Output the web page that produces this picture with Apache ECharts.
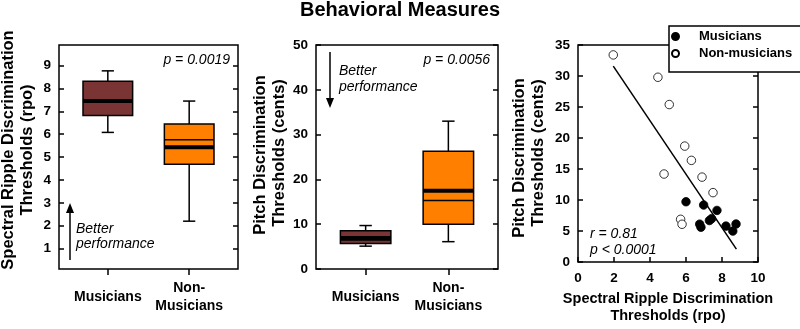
<!DOCTYPE html>
<html>
<head>
<meta charset="utf-8">
<script src="https://cdn.jsdelivr.net/npm/echarts@6/dist/echarts.min.js"></script>
<style>html,body{margin:0;padding:0;background:#fff}#c{width:800px;height:329px}</style>
</head>
<body>
<div id="c"></div>
<script>
// ---------- data ----------
const categories = ['Musicians', 'Non-\nMusicians'];
const groupPos = [1, 2];

// Spectral ripple discrimination thresholds (rpo)
const rippleWhiskerLow  = [6.08, 2.2];
const rippleQ1          = [6.82, 4.69];
const rippleMedian      = [7.45, 5.76];
const rippleQ3          = [8.32, 6.45];
const rippleWhiskerHigh = [8.77, 7.45];
const rippleMean        = [7.45, 5.43];

// Pitch discrimination thresholds (cents)
const pitchWhiskerLow  = [5.1, 6.1];
const pitchQ1          = [5.7, 10.0];
const pitchMedian      = [6.5, 15.3];
const pitchQ3          = [8.55, 26.3];
const pitchWhiskerHigh = [9.7, 33.0];
const pitchMean        = [6.9, 17.45];

// Scatter: ripple (x) vs pitch (y)
const musiciansRipple = [6.0, 6.98, 7.72, 7.3, 7.42, 6.76, 6.83, 8.22, 8.78, 8.6];
const musiciansPitch  = [9.73, 9.2, 8.33, 6.7, 7.0, 6.12, 5.62, 5.8, 6.14, 5.0];
const nonRipple = [1.96, 4.44, 5.07, 5.93, 6.30, 4.78, 6.89, 7.5, 5.70, 5.78];
const nonPitch  = [33.4, 29.8, 25.4, 18.7, 16.4, 14.2, 13.7, 11.2, 6.9, 6.1];

// regression line endpoints
const fitRipple = [1.96, 8.8];
const fitPitch  = [31.6, 2.1];

const rippleTicks = [1, 2, 3, 4, 5, 6, 7, 8, 9];
const groupColors = ['#7a3434', '#ff8000'];

// ---------- chart ----------
const FONT = '"Liberation Sans", Arial, sans-serif';
const BOX_W = 0.61, CAP_W = 0.15;

function boxRows(lo, q1, med, q3, hi, mean) {
  return groupPos.map((x, i) => ({
    value: [x, lo[i], q1[i], med[i], q3[i], hi[i], mean[i]],
    itemStyle: { color: groupColors[i] }
  }));
}

function renderBox(params, api) {
  const x = api.value(0);
  const lo = api.coord([x, api.value(1)]);
  const q1 = api.coord([x, api.value(2)]);
  const med = api.coord([x, api.value(3)]);
  const q3 = api.coord([x, api.value(4)]);
  const hi = api.coord([x, api.value(5)]);
  const mean = api.coord([x, api.value(6)]);
  const w = api.size([BOX_W, 0])[0];
  const cw = api.size([CAP_W, 0])[0];
  const cx = lo[0];
  const color = api.visual('color');
  const s = { stroke: '#000', lineWidth: 1.5 };
  return {
    type: 'group',
    children: [
      { type: 'line', shape: { x1: cx, y1: hi[1], x2: cx, y2: q3[1] }, style: s },
      { type: 'line', shape: { x1: cx, y1: q1[1], x2: cx, y2: lo[1] }, style: s },
      { type: 'line', shape: { x1: cx - cw / 2, y1: hi[1], x2: cx + cw / 2, y2: hi[1] }, style: s },
      { type: 'line', shape: { x1: cx - cw / 2, y1: lo[1], x2: cx + cw / 2, y2: lo[1] }, style: s },
      { type: 'rect', shape: { x: cx - w / 2, y: q3[1], width: w, height: q1[1] - q3[1] },
        style: { fill: color, stroke: '#000', lineWidth: 1.5 } },
      { type: 'line', shape: { x1: cx - w / 2, y1: med[1], x2: cx + w / 2, y2: med[1] }, style: s },
      { type: 'line', shape: { x1: cx - w / 2, y1: mean[1], x2: cx + w / 2, y2: mean[1] },
        style: { stroke: '#000', lineWidth: 4 } }
    ]
  };
}

const tickLabel = { fontFamily: FONT, fontWeight: 'bold', fontSize: 13.5, color: '#000' };

function boxXAxis(gi) {
  return {
    type: 'value', gridIndex: gi, min: 0.4, max: 2.6,
    axisLine: { show: false },
    splitLine: { show: false },
    axisTick: { show: true, inside: false, length: 6, customValues: groupPos, lineStyle: { color: '#000', width: 1.5 } },
    axisLabel: Object.assign({}, tickLabel, {
      fontSize: 14, customValues: groupPos, margin: 28, verticalAlign: 'middle', lineHeight: 18,
      formatter: v => categories[groupPos.indexOf(v)] || ''
    })
  };
}

function yAxisPair(gi, min, max, extra) {
  const base = {
    type: 'value', gridIndex: gi, min: min, max: max,
    axisLine: { show: false }, splitLine: { show: false },
    axisTick: Object.assign({ show: true, inside: true, length: 5, lineStyle: { color: '#000', width: 1.5 } }, extra.tick || {})
  };
  return [
    Object.assign({}, base, { position: 'left', interval: extra.interval,
      axisLabel: Object.assign({}, tickLabel, { margin: 8 }, extra.label || {}) }),
    Object.assign({}, base, { position: 'right', interval: extra.interval, axisLabel: { show: false,
      customValues: extra.label && extra.label.customValues } })
  ];
}

const rippleY = yAxisPair(0, 0.11, 9.9, { tick: { customValues: rippleTicks }, label: { customValues: rippleTicks } });
const pitchY = yAxisPair(1, 0, 50, { interval: 10 });
const scatterY = yAxisPair(2, 0, 35, { interval: 5 });

const gridStyle = { show: true, borderColor: '#000', borderWidth: 1.5, backgroundColor: 'transparent' };

function vtext(x, y, lines) {
  return { type: 'text', x: x, y: y, rotation: Math.PI / 2,
    style: { text: lines, font: 'bold 16.5px ' + FONT, fill: '#000', align: 'center', verticalAlign: 'middle' } };
}
function itext(x, y, t, align) {
  return { type: 'text', x: x, y: y,
    style: { text: t, font: 'italic 14px ' + FONT, fill: '#000', align: align || 'left', verticalAlign: 'middle' } };
}
function arrow(x, yTail, yHead) {
  const dir = yHead < yTail ? 1 : -1;
  return [
    { type: 'line', shape: { x1: x, y1: yTail, x2: x, y2: yHead + dir * 6 }, style: { stroke: '#000', lineWidth: 1.5 } },
    { type: 'polygon', shape: { points: [[x, yHead], [x - 4, yHead + dir * 10], [x + 4, yHead + dir * 10]] }, style: { fill: '#000' } }
  ];
}

const option = {
  animation: false,
  backgroundColor: '#fff',
  title: { text: 'Behavioral Measures', left: 'center', top: 0, padding: 0,
    textStyle: { fontFamily: FONT, fontWeight: 'bold', fontSize: 20, color: '#000' } },
  legend: {
    data: ['Musicians', 'Non-musicians'], orient: 'vertical', left: 669, top: 26,
    padding: [4, 60, 12, 2], itemGap: 4, itemWidth: 7, itemHeight: 7,
    backgroundColor: '#fff', borderColor: '#000', borderWidth: 1.5, borderRadius: 0,
    textStyle: { fontFamily: FONT, fontWeight: 'bold', fontSize: 13, color: '#000', padding: [0, 0, 0, 15] },
    z: 10
  },
  grid: [
    Object.assign({ left: 59, top: 45, width: 179, height: 224 }, gridStyle),
    Object.assign({ left: 316, top: 45, width: 182, height: 224 }, gridStyle),
    Object.assign({ left: 578, top: 45, width: 180, height: 224 }, gridStyle)
  ],
  xAxis: [
    boxXAxis(0),
    boxXAxis(1),
    { type: 'value', gridIndex: 2, min: 0, max: 10, interval: 2,
      axisLine: { show: false }, splitLine: { show: false },
      axisTick: { show: true, inside: true, length: 5, lineStyle: { color: '#000', width: 1.5 } },
      axisLabel: Object.assign({}, tickLabel, { margin: 9 }),
      name: 'Spectral Ripple Discrimination\nThresholds (rpo)', nameLocation: 'middle', nameGap: 27,
      nameTextStyle: { fontFamily: FONT, fontWeight: 'bold', fontSize: 14.5, color: '#000', lineHeight: 17, verticalAlign: 'top' } }
  ],
  yAxis: [rippleY[0], rippleY[1], pitchY[0], pitchY[1], scatterY[0], scatterY[1]],
  series: [
    { type: 'custom', name: 'ripple box', xAxisIndex: 0, yAxisIndex: 0, renderItem: renderBox,
      encode: { x: 0, y: [1, 2, 3, 4, 5] },
      data: boxRows(rippleWhiskerLow, rippleQ1, rippleMedian, rippleQ3, rippleWhiskerHigh, rippleMean) },
    { type: 'custom', name: 'pitch box', xAxisIndex: 1, yAxisIndex: 2, renderItem: renderBox,
      encode: { x: 0, y: [1, 2, 3, 4, 5] },
      data: boxRows(pitchWhiskerLow, pitchQ1, pitchMedian, pitchQ3, pitchWhiskerHigh, pitchMean) },
    { type: 'line', name: 'fit', xAxisIndex: 2, yAxisIndex: 4, symbol: 'none',
      lineStyle: { color: '#000', width: 1.5 },
      data: fitRipple.map((x, i) => [x, fitPitch[i]]) },
    { type: 'scatter', name: 'Non-musicians', xAxisIndex: 2, yAxisIndex: 4, symbol: 'circle', symbolSize: 8.5,
      itemStyle: { color: '#fff', borderColor: '#000', borderWidth: 0.8, opacity: 1 },
      data: nonRipple.map((x, i) => [x, nonPitch[i]]) },
    { type: 'scatter', name: 'Musicians', xAxisIndex: 2, yAxisIndex: 4, symbol: 'circle', symbolSize: 8.5,
      itemStyle: { color: '#000', borderColor: '#000', borderWidth: 0.8, opacity: 1 },
      data: musiciansRipple.map((x, i) => [x, musiciansPitch[i]]) }
  ],
  graphic: [
    vtext(8, 150, 'Spectral Ripple Discrimination'),
    vtext(27, 150, 'Thresholds (rpo)'),
    vtext(260, 155, 'Pitch Discrimination'),
    vtext(279, 153, 'Thresholds (cents)'),
    vtext(519, 158, 'Pitch Discrimination'),
    vtext(538, 153, 'Thresholds (cents)'),
    itext(230, 60, 'p = 0.0019', 'right'),
    itext(490, 60, 'p = 0.0056', 'right'),
    itext(76, 229, 'Better'),
    itext(76, 244, 'performance'),
    itext(339, 71, 'Better'),
    itext(339, 87, 'performance'),
    itext(590, 234, 'r = 0.81'),
    itext(590, 250, 'p < 0.0001'),
    ...arrow(70, 260, 203),
    ...arrow(330, 52, 108)
  ]
};

echarts.init(document.getElementById('c'), null, { renderer: 'canvas' }).setOption(option);
</script>
</body>
</html>
